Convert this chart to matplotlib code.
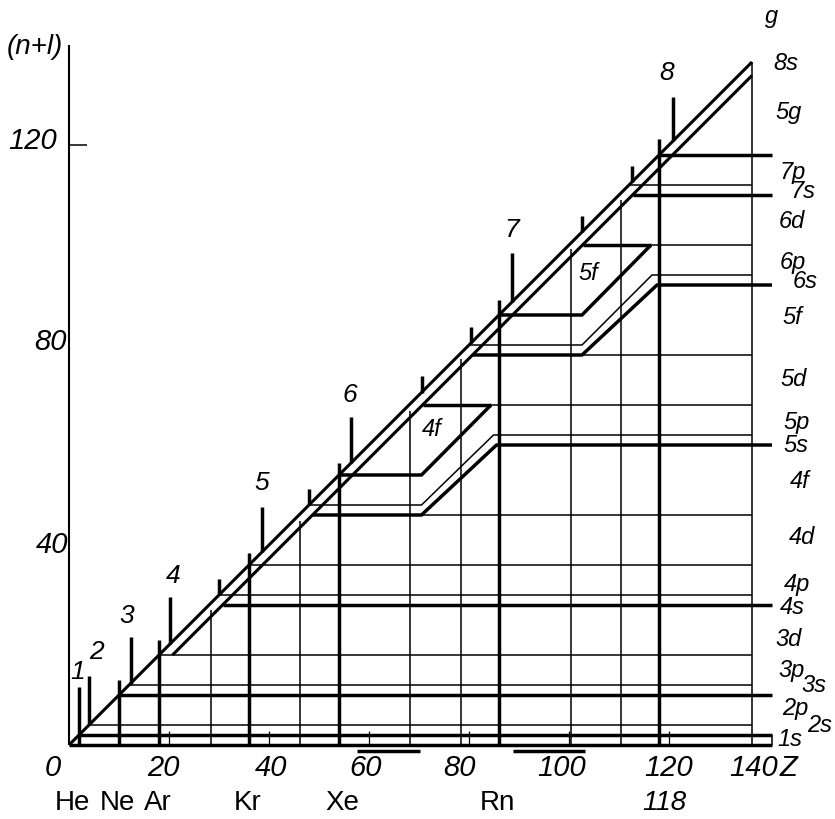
import matplotlib
matplotlib.use("Agg")
import matplotlib.pyplot as plt

# ---- values (x: Z, y: cumulative electron count) ----
z_max = 136.6          # top of the diagonal / right border
z_box = 140.6          # right end of the thick levels
shift = 2.7            # offset of the second (lower) diagonal

period_n = ["1", "2", "3", "4", "5", "6", "7", "8"]
period_z = [2.0, 4.0, 12.3, 20.2, 38.6, 56.4, 88.6, 120.8]
period_top = [11.7, 13.9, 21.7, 29.6, 47.7, 65.6, 98.4, 129.6]

noble_z = [10, 18, 36, 54, 86, 118]
noble_top = [13.0, 21.0, 38.4, 56.5, 89.0, 121.3]

shell_end_z = [30, 48, 70.5, 80.4, 102.6, 112.6]   # short ticks on the diagonal
thin_z = [28.4, 46.2, 68.2, 78.4, 100.4, 110.4]    # thin verticals

thin_levels = [4, 12, 18, 30, 36, 112]
thick_upper = [2, 10, 118]      # thick levels leaving the upper diagonal
thick_lower = [28, 110]         # thick levels leaving the lower diagonal

# f-blocks (4f, 5f) and the steps they cause
f_bottom = [54, 86]
f_start = [70.5, 102.6]
f_top = [68, 100]
f_right = [84.4, 116.4]
d_thin = [48, 80]
d_thick = [46, 78]
step_thin_end = [84.9, 116.6]
step_thin_level = [62, 94]
step_thick_end = [85.5, 117.6]
step_thick_level = [60, 92]
f_names = ["4f", "5f"]

x_ticks = [20, 40, 60, 80, 100, 120]
x_labels = ["0", "20", "40", "60", "80", "100", "120", "140"]
y_labels = ["40", "80", "120"]
elements = ["He", "Ne", "Ar", "Kr", "Xe", "Rn", "118"]
underline_z = [(57.6, 70.2), (88.8, 103.2)]

sub_names = ["g", "8s", "5g", "7p", "7s", "6d", "6p", "6s", "5f", "5d", "5p", "5s",
             "4f", "4d", "4p", "4s", "3d", "3p", "3s", "2p", "2s", "1s"]

# ---- label placement (data coordinates) ----
x_label_pos = [-3.2, 18.8, 40.4, 59.4, 78.0, 98.6, 120.0, 137.0]
y_label_pos = [(-3.4, 40.0), (-3.8, 80.6), (-7.2, 120.8)]
element_pos = [0.6, 9.6, 17.8, 35.8, 54.6, 85.6, 119.0]
period_label_pos = [(1.8, 14.6), (5.4, 18.6), (11.6, 25.8), (20.8, 33.8),
                    (38.6, 52.4), (56.2, 70.0), (88.6, 103.0), (119.6, 134.4)]
sub_pos = [(140.6, 145.6), (143.4, 136.4), (144.0, 126.6), (144.8, 114.6),
           (146.8, 110.6), (144.6, 104.6), (144.8, 96.4), (147.2, 92.6),
           (144.6, 85.6), (145.0, 73.0), (145.6, 64.4), (145.4, 60.0),
           (146.2, 52.6), (146.6, 41.4), (145.6, 32.0), (144.6, 27.6),
           (144.0, 21.2), (144.6, 15.0), (149.0, 11.8), (145.2, 7.2),
           (150.2, 3.8), (144.2, 1.2)]
f_label_pos = [(72.6, 63.0), (103.8, 94.4)]

THICK = 2.5
THIN = 1.1
DIAG = 2.2
FONT = ["Liberation Sans Narrow", "Liberation Sans", "DejaVu Sans"]

fig = plt.figure(figsize=(8.35, 8.19), dpi=100)
ax = fig.add_axes([0, 0, 1, 1])
ax.set_xlim(-69 / 5.0, (835 - 69) / 5.0)
ax.set_ylim((745 - 819) / 5.0, 745 / 5.0)
ax.axis("off")

k = dict(color="black", solid_capstyle="butt")

# axes
ax.plot([0, 0], [0, 140], lw=1.5, **k)
ax.plot([0, z_box], [0, 0], lw=THICK, **k)
ax.plot([z_box, z_box], [0, 2], lw=THIN, **k)
ax.plot([0, 3.6], [120, 120], lw=THIN, **k)
for z in x_ticks:
    ax.plot([z, z], [0, 2.8], lw=0.9, **k)

# diagonals and right border
ax.plot([0, z_max], [0, z_max], lw=DIAG, **k)
ax.plot([18 + shift, z_max], [18, z_max - shift], lw=DIAG, **k)
ax.plot([z_max, z_max], [0, z_max], lw=THIN, **k)

# verticals
for z, top in zip(noble_z, noble_top):
    ax.plot([z, z], [0, top], lw=THICK, **k)
for i, (z, top) in enumerate(zip(period_z, period_top)):
    bottom = 0 if i == 0 else z
    ax.plot([z, z], [bottom, top], lw=THICK, **k)
for z in shell_end_z:
    ax.plot([z, z], [z, z + 3.3], lw=THICK, **k)
for z in thin_z:
    ax.plot([z, z], [0, z - 1.3], lw=THIN, **k)

# simple levels
for lv in thin_levels:
    ax.plot([lv, z_max], [lv, lv], lw=THIN, **k)
for lv in thick_upper:
    ax.plot([lv, z_box], [lv, lv], lw=THICK, **k)
for lv in thick_lower:
    ax.plot([lv + shift, z_box], [lv, lv], lw=THICK, **k)

# f-blocks and steps
for i in range(2):
    b, s, t, r = f_bottom[i], f_start[i], f_top[i], f_right[i]
    ax.plot([b, s, r], [b, b, t], lw=THICK, **k)
    ax.plot([t + shift, r], [t, t], lw=THICK, **k)
    ax.plot([r, z_max], [t, t], lw=THIN, **k)
    ax.plot([d_thin[i], s, step_thin_end[i], z_max],
            [d_thin[i], d_thin[i], step_thin_level[i], step_thin_level[i]], lw=THIN, **k)
    ax.plot([d_thick[i] + shift, s, step_thick_end[i], z_box],
            [d_thick[i], d_thick[i], step_thick_level[i], step_thick_level[i]], lw=THICK, **k)
    ax.plot([s, z_max], [d_thick[i], d_thick[i]], lw=THIN, **k)
    ax.text(*f_label_pos[i], f_names[i], family=FONT, style="italic", fontsize=17,
            ha="center", va="center")

for a, b in underline_z:
    ax.plot([a, b], [-1.2, -1.2], lw=THICK, **k)

# text
for lab, x in zip(x_labels, x_label_pos):
    ax.text(x, -4.6, lab, family=FONT, style="italic", fontsize=21, ha="center", va="center")
ax.text(143.8, -4.6, "Z", family=FONT, style="italic", fontsize=21, ha="center", va="center")
for lab, (x, y) in zip(y_labels, y_label_pos):
    ax.text(x, y, lab, family=FONT, style="italic", fontsize=21, ha="center", va="center")
ax.text(-6.8, 139.6, "(n+l)", family=FONT, style="italic", fontsize=20, ha="center", va="center")
for lab, x in zip(elements, element_pos):
    ax.text(x, -11.6, lab, family=FONT, style="italic" if lab == "118" else "normal",
            fontsize=20, ha="center", va="center")
for lab, (x, y) in zip(period_n, period_label_pos):
    ax.text(x, y, lab, family=FONT, style="italic", fontsize=19, ha="center", va="center")
for lab, (x, y) in zip(sub_names, sub_pos):
    ax.text(x, y, lab, family=FONT, style="italic", fontsize=17, ha="center", va="center")

fig.savefig("out.png", dpi=100)
